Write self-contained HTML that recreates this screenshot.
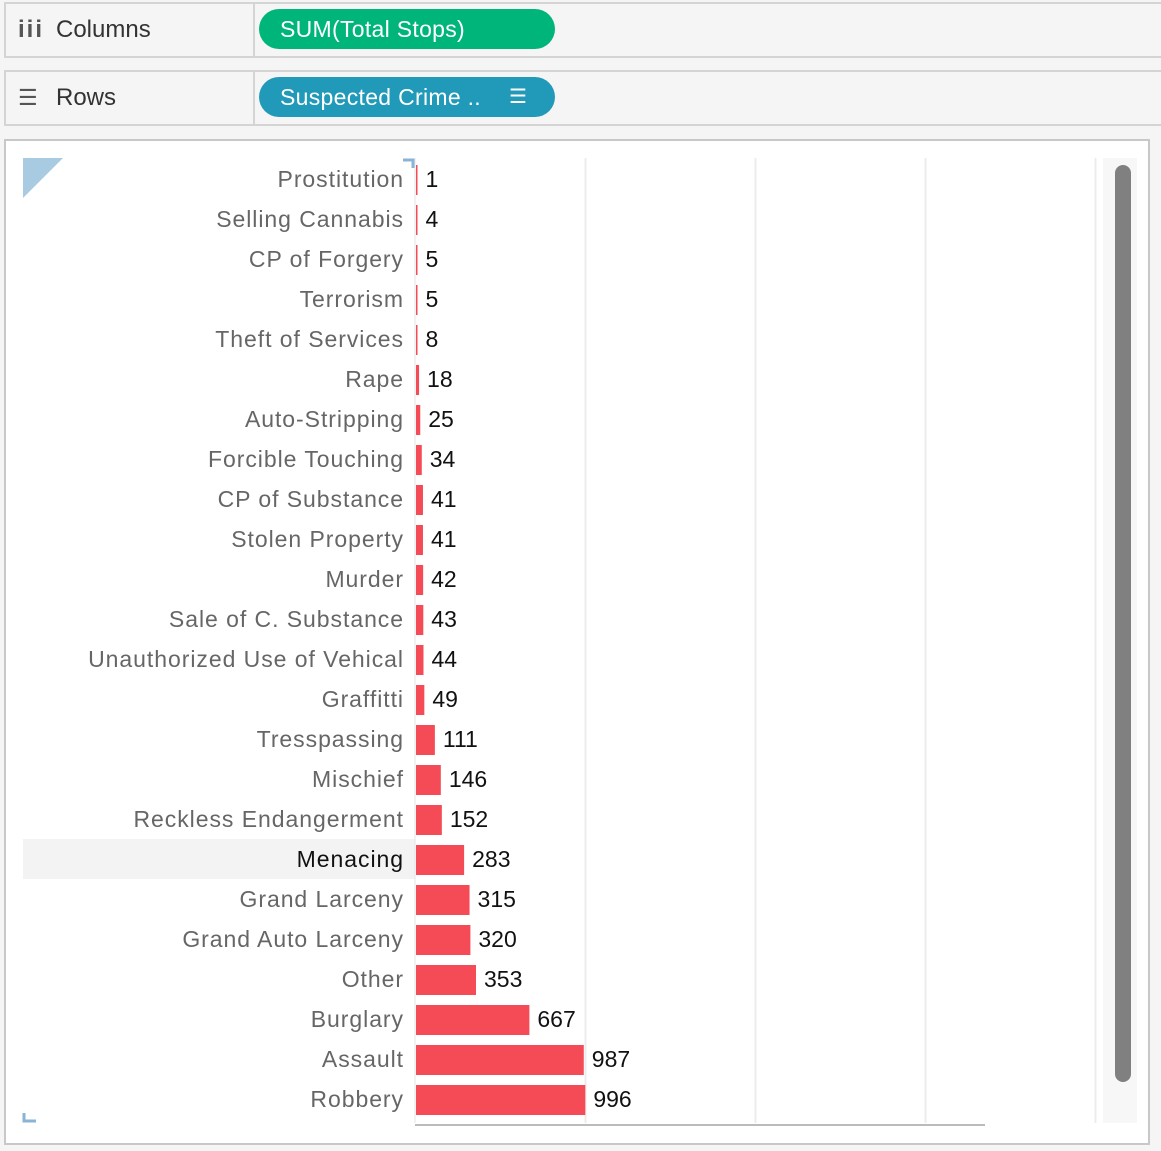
<!DOCTYPE html>
<html><head><meta charset="utf-8"><style>
body{margin:0;width:1161px;height:1151px;background:#f5f5f5;position:relative;overflow:hidden;font-family:"Liberation Sans",sans-serif}
.shelf{position:absolute;left:4px;width:1157px;height:52px;border:2px solid #d4d4d4;border-right:none;background:#f5f5f5}
.shelf .lab{position:absolute;left:0;top:0;width:247px;height:52px;border-right:2px solid #d4d4d4;font-size:24px;color:#333;line-height:52px}
.pill{position:absolute;left:253px;top:5px;width:296px;height:40px;border-radius:20px;color:#fff;font-size:23px;line-height:40px;padding-left:21px;box-sizing:border-box;letter-spacing:0.3px}
#panel{position:absolute;left:4px;top:139px;width:1142px;height:1002px;border:2px solid #c8c8c8;background:#fff}
</style></head><body>
<div class="shelf" style="top:2px">
 <div class="lab"><span style="position:absolute;left:12px;font-weight:bold;color:#555;letter-spacing:2px">iii</span><span style="position:absolute;left:50px">Columns</span></div>
 <div class="pill" style="background:#00b57a">SUM(Total Stops)</div>
</div>
<div class="shelf" style="top:70px">
 <div class="lab"><span style="position:absolute;left:12px;top:0;font-size:22px;color:#555">☰</span><span style="position:absolute;left:50px">Rows</span></div>
 <div class="pill" style="background:#2199b8">Suspected Crime ..<span style="position:absolute;left:250px;top:0;font-size:20px">☰</span></div>
</div>
<div id="panel"></div>
<svg id="chart" width="1161" height="1151" style="position:absolute;left:0;top:0"></svg>
<script>
const categories=["Prostitution","Selling Cannabis","CP of Forgery","Terrorism","Theft of Services","Rape","Auto-Stripping","Forcible Touching","CP of Substance","Stolen Property","Murder","Sale of C. Substance","Unauthorized Use of Vehical","Graffitti","Tresspassing","Mischief","Reckless Endangerment","Menacing","Grand Larceny","Grand Auto Larceny","Other","Burglary","Assault","Robbery"];
const values=[1,4,5,5,8,18,25,34,41,41,42,43,44,49,111,146,152,283,315,320,353,667,987,996];
const gridValues=[1000,2000,3000,4000];
const NS="http://www.w3.org/2000/svg";
const svg=document.getElementById('chart');
const x=v=>416+v*0.17;
const y=i=>180+i*40;
function mk(t,a){const e=document.createElementNS(NS,t);for(const k in a)e.setAttribute(k,a[k]);svg.appendChild(e);return e;}
let tr=mk('rect',{x:1103,y:158,width:34,height:965,fill:'#f7f7f7'});


let sb=mk('rect',{x:1115,y:165,width:16,height:917,rx:8,fill:'#808080'});


gridValues.forEach(g=>{
 const l=mk('line',{x1:x(g)-0.5,x2:x(g)-0.5,y1:158,y2:1123,stroke:'#ececec','stroke-width':2});
 
 
});
let ci=mk('polygon',{points:'23,158 63,158 23,198',fill:'#a9cbe2'});


categories.forEach((c,i)=>{
 if(c==='Menacing'){const h=mk('rect',{x:23,y:y(i)-21,width:392,height:40,fill:'#f3f3f3'});
  
  }
 const t=mk('text',{x:404,y:y(i)+7,'text-anchor':'end','font-size':23,'letter-spacing':'0.95',fill:c==='Menacing'?'#111':'#666','font-family':'Liberation Sans, sans-serif'});
 t.textContent=c;
 
 
 const w=Math.max(x(values[i])-416,1.5);
 const b=mk('rect',{x:416,y:y(i)-15,width:w,height:30,fill:'#f54b56'});
 
 
 const v=mk('text',{x:416+w+8,y:y(i)+7,'font-size':23,fill:'#111','font-family':'Liberation Sans, sans-serif'});
 v.textContent=values[i];
 
 
});
let ax=mk('line',{x1:415,x2:985,y1:1125,y2:1125,stroke:'#777','stroke-width':1});


let sep=mk('line',{x1:415,x2:415,y1:158,y2:1123,stroke:'#e6e6e6','stroke-width':1});


let c1=mk('path',{d:'M403,160 H413 V168',fill:'none',stroke:'#8ab4d6','stroke-width':3});


let c2=mk('path',{d:'M24,1113 V1121 H36',fill:'none',stroke:'#8ab4d6','stroke-width':3});


</script>
</body></html>
